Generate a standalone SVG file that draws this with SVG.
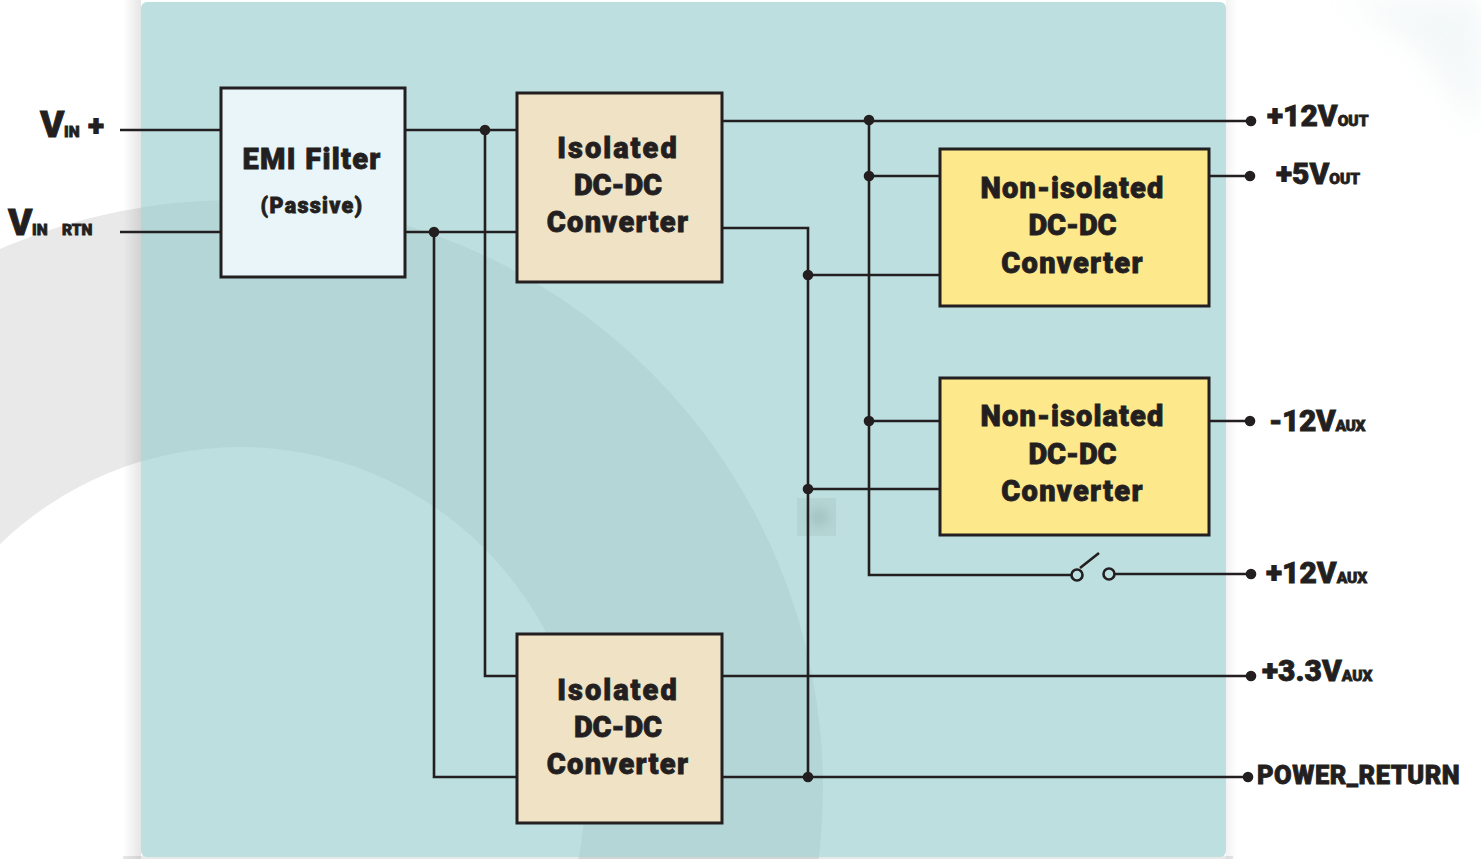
<svg xmlns="http://www.w3.org/2000/svg" width="1481" height="859" viewBox="0 0 1481 859">
<defs>
<style>
.box{stroke:#231f20;stroke-width:3}
.w{fill:none;stroke:#231f20;stroke-width:2.6}
.d{fill:#231f20}
text{font-family:Roboto,"Liberation Sans",Arial,sans-serif;font-weight:900;fill:#231f20;stroke:#231f20;stroke-width:.8}
.t{font-size:29px;text-anchor:middle;letter-spacing:1.3px}
.i{letter-spacing:2px}
.c{letter-spacing:-.1px}
.n{letter-spacing:1.1px}
.l{font-size:30px}
.s{font-size:15.5px}
</style>
<linearGradient id="shL" x1="0" x2="1" y1="0" y2="0"><stop offset="0" stop-color="#000" stop-opacity="0"/><stop offset="1" stop-color="#000" stop-opacity=".1"/></linearGradient>
<linearGradient id="shR" x1="0" x2="1" y1="0" y2="0"><stop offset="0" stop-color="#000" stop-opacity=".05"/><stop offset="1" stop-color="#000" stop-opacity="0"/></linearGradient>
<filter id="blur" x="-50%" y="-50%" width="200%" height="200%"><feGaussianBlur stdDeviation="6"/></filter>
<filter id="cloud" x="-30%" y="-30%" width="160%" height="160%"><feGaussianBlur stdDeviation="16"/></filter>
<clipPath id="panel"><rect x="141" y="2" width="1085" height="855" rx="6"/></clipPath>
<mask id="band"><rect width="1481" height="859" fill="#fff"/><circle cx="240" cy="792" r="345" fill="#000"/></mask>
</defs>
<rect width="1481" height="859" fill="#fff"/>
<path d="M1340 0H1481V130C1460 110 1440 60 1400 30Z" fill="#e4efef" opacity=".45" filter="url(#cloud)"/>
<g mask="url(#band)"><circle cx="235" cy="788" r="588" fill="#e9e9e9"/></g>
<rect x="123" y="0" width="18" height="859" fill="url(#shL)"/>
<rect x="1226" y="0" width="11" height="859" fill="url(#shR)"/>
<rect x="123" y="856" width="1110" height="3" fill="#000" opacity=".09"/>
<rect x="141" y="2" width="1085" height="855" rx="6" fill="#bddfdf"/>
<g clip-path="url(#panel)" mask="url(#band)"><circle cx="235" cy="788" r="588" fill="#b5d6d6"/></g>
<rect x="797" y="498" width="39" height="38" fill="#b5d5d5"/>
<circle cx="819" cy="517" r="9" fill="#a0c0c0" filter="url(#blur)"/>
<g id="connectors">
<path class="w" d="M120 130H221M120 232H221M405 130H517M405 232H517M485 130V676H517M434 232V777H517"/>
<path class="w" d="M723 121H1251M723 228H808V777M808 275H940M808 489H940M723 777H1248M723 676H1251"/>
<path class="w" d="M869 121V575H1071M869 176H940M869 421H940M1209 176H1250M1209 421H1250"/>
<path class="w" d="M1080 568L1099 553M1115 574H1251"/>
<circle class="w" cx="1077" cy="575" r="5.5"/>
<circle class="w" cx="1109" cy="574" r="5.5"/>
<g class="d">
<circle cx="485" cy="130" r="5.3"/><circle cx="434" cy="232" r="5.3"/><circle cx="869" cy="120" r="5.3"/><circle cx="869" cy="176" r="5.3"/><circle cx="869" cy="421" r="5.3"/>
<circle cx="808" cy="275" r="5.3"/><circle cx="808" cy="489" r="5.3"/><circle cx="808" cy="777" r="5.3"/>
<circle cx="1251" cy="121" r="5.3"/><circle cx="1250" cy="176" r="5.3"/><circle cx="1250" cy="421" r="5.3"/><circle cx="1251" cy="574" r="5.3"/><circle cx="1251" cy="676" r="5.3"/><circle cx="1248" cy="777" r="5.3"/>
</g>
</g>
<g id="emi"><rect class="box" x="221" y="88" width="184" height="189" fill="#e9f5f8"/><text class="t" x="312" y="169">EMI Filter</text><text class="t" x="312" y="213" style="font-size:21.5px">(Passive)</text></g>
<g id="iso1"><rect class="box" x="517" y="93" width="205" height="189" fill="#f0e2c5"/><text class="t i" x="618" y="158">Isolated</text><text class="t c" x="618" y="195">DC-DC</text><text class="t" x="618" y="232">Converter</text></g>
<g id="iso2"><rect class="box" x="517" y="634" width="205" height="189" fill="#f0e2c5"/><text class="t i" x="618" y="700">Isolated</text><text class="t c" x="618" y="737">DC-DC</text><text class="t" x="618" y="774">Converter</text></g>
<g id="non1"><rect class="box" x="940" y="149" width="269" height="157" fill="#fde88b"/><text class="t n" x="1072.5" y="198">Non-isolated</text><text class="t c" x="1072.5" y="235">DC-DC</text><text class="t" x="1072.5" y="273">Converter</text></g>
<g id="non2"><rect class="box" x="940" y="378" width="269" height="157" fill="#fde88b"/><text class="t n" x="1072.5" y="426">Non-isolated</text><text class="t c" x="1072.5" y="464">DC-DC</text><text class="t" x="1072.5" y="501">Converter</text></g>
<g id="labels">
<text x="40" y="137" style="font-size:37px">V</text><text x="64" y="137" class="s">IN</text><text x="88" y="136" class="l">+</text>
<text x="8" y="235" style="font-size:37px">V</text><text x="32" y="235" class="s">IN</text><text x="62" y="235" class="s">RTN</text>
<text x="1267" y="126" class="l">+12V<tspan class="s">OUT</tspan></text>
<text x="1276" y="184" class="l">+5V<tspan class="s">OUT</tspan></text>
<text x="1269" y="431" class="l" style="letter-spacing:-.4px">-12V<tspan class="s">AUX</tspan></text>
<text x="1266" y="583" class="l">+12V<tspan class="s">AUX</tspan></text>
<text x="1262" y="681" class="l">+3.3V<tspan class="s">AUX</tspan></text>
<text x="1257" y="784" style="font-size:25.5px;letter-spacing:.5px">POWER_RETURN</text>
</g>
</svg>
